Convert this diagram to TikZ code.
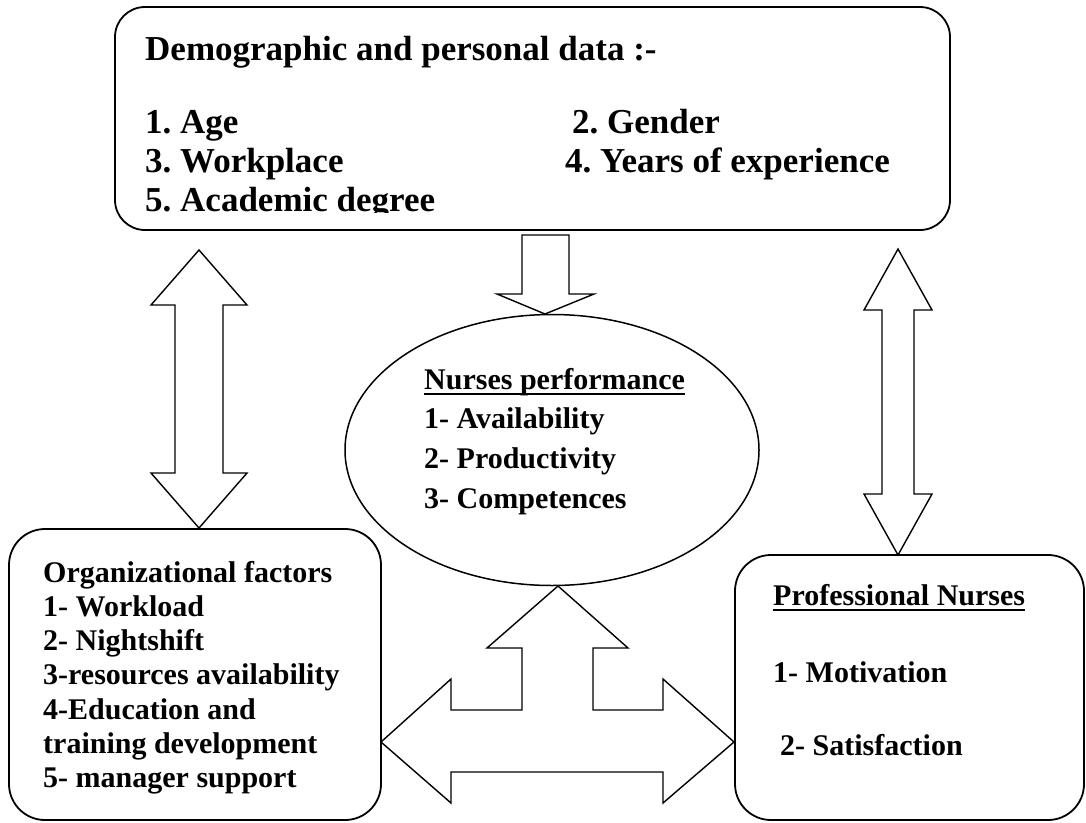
\documentclass[tikz,border=0pt]{standalone}
\usepackage{fontspec}
\setmainfont{Liberation Serif}
\usetikzlibrary{shapes.geometric}
\frenchspacing
\begin{document}
\begin{tikzpicture}[x=1pt,y=-1pt,
  box/.style={draw, line width=1.8pt, rounded corners=30pt, inner sep=0pt},
  barrow/.style={draw, line width=1.4pt, fill=white, line join=miter},
  bigtxt/.style={anchor=base west, inner sep=0pt, font=\frenchspacing\fontsize{35}{39}\selectfont\bfseries},
  midtxt/.style={anchor=base west, inner sep=0pt, font=\frenchspacing\fontsize{30}{36}\selectfont\bfseries},
  ultxt/.style={line width=2pt}]
\path[use as bounding box] (0,0) rectangle (1086,822);

% boxes
\node[box, minimum width=835pt, minimum height=223pt] (demo) at (532.5,118.5) {};
\node[box, minimum width=372pt, minimum height=291pt, rounded corners=36pt] (org) at (195,674.5) {};
\node[box, minimum width=349pt, minimum height=265pt, rounded corners=36pt] (prof) at (909.5,687.5) {};
\node[draw, line width=1.5pt, ellipse, minimum width=414pt, minimum height=271pt, inner sep=0pt] (perf) at (552,450) {};

% top box text
\node[bigtxt] (t0) at (145,60) {Demographic and personal data :-};
\node[bigtxt] (t1) at (145,133) {1. Age};
\node[bigtxt] (t2) at (572,133) {2. Gender};
\node[bigtxt] (t3) at (145,172) {3. Workplace};
\node[bigtxt] (t4) at (565,172) {4. Years of experience};
\begin{scope}
\clip (120,150) rectangle (900,212);
\node[bigtxt] (t5) at (145,211) {5. Academic degree};
\end{scope}

% ellipse text
\node[midtxt] (e0) at (424,389) {Nurses performance};
\draw[ultxt] ([yshift=-5pt]e0.base west) -- ([yshift=-5pt]e0.base east);
\node[midtxt] (e1) at (424,428.7) {1- Availability};
\node[midtxt] (e2) at (424,468.4) {2- Productivity};
\node[midtxt] (e3) at (424,508) {3- Competences};

% left box text
\node[midtxt] (o0) at (43,582) {Organizational factors};
\node[midtxt] (o1) at (43,616.3) {1- Workload};
\node[midtxt] (o2) at (43,650.6) {2- Nightshift};
\node[midtxt] (o3) at (43,684.9) {3-resources availability};
\node[midtxt] (o4) at (43,719.2) {4-Education and};
\node[midtxt] (o5) at (43,753.5) {training development};
\node[midtxt] (o6) at (43,787.8) {5- manager support};

% right box text
\node[midtxt] (p0) at (773,605) {Professional Nurses};
\draw[ultxt] ([yshift=-5pt]p0.base west) -- ([yshift=-5pt]p0.base east);
\node[midtxt] (p1) at (773,682) {1- Motivation};
\node[midtxt] (p2) at (780,755) {2- Satisfaction};

% block arrows
% down arrow from demo to perf
\draw[barrow] (522,235) -- (569,235) -- (569,294) -- (594,294) -- (545,314) -- (497,294) -- (522,294) -- cycle;
% left double arrow
\draw[barrow] (199,250) -- (247,305) -- (223,305) -- (223,473) -- (247,473) -- (199,528) -- (151,473) -- (175,473) -- (175,305) -- (151,305) -- cycle;
% right double arrow
\draw[barrow] (898,249) -- (932,310) -- (914,310) -- (914,494) -- (932,494) -- (898,555) -- (864,494) -- (882,494) -- (882,310) -- (864,310) -- cycle;
% bottom three-way arrow
\draw[barrow] (558,586) -- (628,648) -- (593,648) -- (593,710) -- (663,710) -- (663,679) -- (734,742) -- (663,803) -- (663,772) -- (451,772) -- (451,803) -- (381,742) -- (451,679) -- (451,710) -- (522,710) -- (522,648) -- (487,648) -- cycle;
\end{tikzpicture}
\end{document}
